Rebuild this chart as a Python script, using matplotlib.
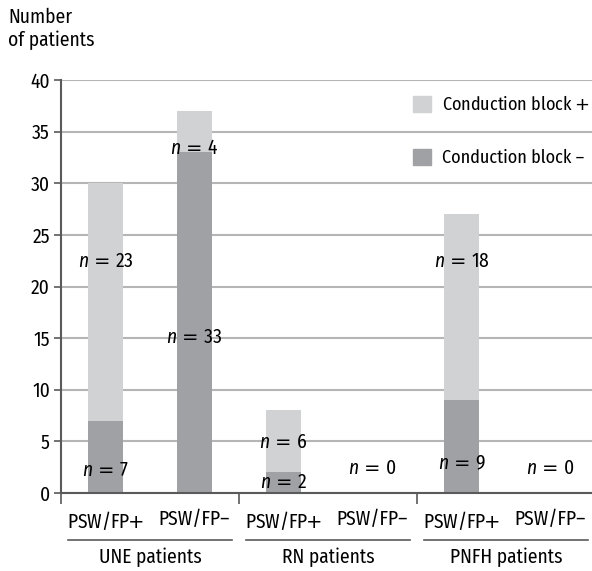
import matplotlib
matplotlib.use('Agg')
import matplotlib.pyplot as plt
from matplotlib.patches import Patch
import matplotlib.transforms as mtransforms

fam = 'Fira Sans Condensed'
plt.rcParams['font.family'] = [fam, 'DejaVu Sans']
plt.rcParams['mathtext.fontset'] = 'custom'
plt.rcParams['mathtext.it'] = fam + ':italic'
plt.rcParams['mathtext.rm'] = 'DejaVu Sans'

# data
groups = ['UNE patients', 'RN patients', 'PNFH patients']
subcats = [r'PSW/FP$\!\!+$', 'PSW/FP\u2013'] * 3
block_neg = [7, 33, 2, 0, 9, 0]    # Conduction block -
block_pos = [23, 4, 6, 0, 18, 0]   # Conduction block +
# label heights for n = ... annotations
lab_neg_y = [2.2, 15.1, 1.0, 2.4, 2.9, 2.4]
lab_pos_y = [22.4, 33.4, 4.9, None, 22.4, None]

light = '#d1d2d4'
dark = '#a0a1a5'
gridc = '#b5b5b5'
axc = '#5a5a5a'
fs = 14

fig = plt.figure(figsize=(5.92, 5.71), dpi=100)
ax = fig.add_axes([61/592, 78/571, 531/592, 413/571])

x = list(range(6))
w = 0.39
ax.bar(x, block_neg, width=w, color=dark, zorder=2)
ax.bar(x, block_pos, width=w, bottom=block_neg, color=light, zorder=2)

ax.set_ylim(0, 40)
ax.set_xlim(-0.5, 5.466)
ax.set_yticks(range(0, 41, 5))
ax.yaxis.grid(True, color=gridc, linewidth=1.5, zorder=0)
ax.set_axisbelow(True)
for s in ['top', 'right']:
    ax.spines[s].set_visible(False)
for s in ['left', 'bottom']:
    ax.spines[s].set_color(axc)
    ax.spines[s].set_linewidth(1.5)
ax.tick_params(axis='y', length=5, width=1.2, color=axc, labelsize=fs, pad=3)

ax.set_xticks(x)
ax.set_xticklabels(subcats, fontsize=fs)
ax.tick_params(axis='x', length=0, pad=12)
ax.set_xticks([-0.5, 1.5, 3.5], minor=True)
ax.tick_params(axis='x', which='minor', length=8, width=1.2, color=axc, direction='out')

# n labels
def nlabel(xx, yy, v):
    ax.text(xx, yy, r'$n\,=\,$' + str(v), ha='center', va='center',
            fontsize=fs, zorder=3)

for i in range(6):
    nlabel(x[i], lab_neg_y[i], block_neg[i])
    if lab_pos_y[i] is not None:
        nlabel(x[i], lab_pos_y[i], block_pos[i])

# group labels and underlines
trans = mtransforms.blended_transform_factory(ax.transData, ax.transAxes)
for g, name in enumerate(groups):
    x0 = 2 * g - 0.42
    x1 = 2 * g + 1.42
    ax.plot([x0, x1], [-0.114, -0.114], color=axc, linewidth=1.2,
            transform=trans, clip_on=False)
    ax.text(2 * g + 0.5, -0.155, name, ha='center', va='center',
            fontsize=fs, transform=trans)

# legend
handles = [Patch(color=light, label='Conduction block $+$'),
           Patch(color=dark, label='Conduction block \u2013')]
ax.legend(handles=handles, loc='upper right', bbox_to_anchor=(1.027, 1.004),
          frameon=False, fontsize=13, handlelength=1.0, handleheight=1.0,
          labelspacing=1.95, handletextpad=0.6)

fig.text(8/592, 1 - 8/571, 'Number\nof patients', ha='left', va='top',
         fontsize=fs, linespacing=1.2)

fig.savefig('out.png', dpi=100)
